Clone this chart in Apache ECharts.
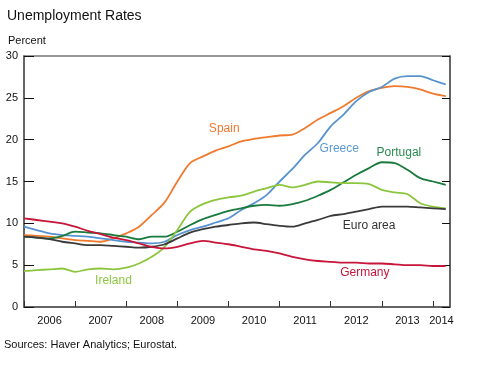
<!DOCTYPE html>
<html><head><meta charset="utf-8">
<script src="https://cdn.jsdelivr.net/npm/echarts@6/dist/echarts.min.js"></script>
<style>html,body{margin:0;padding:0;background:#fff}#c{width:480px;height:366px}</style>
</head><body><div id="c"></div>
<script>
// monthly categories Jan 2006 .. May 2014
const months = [];
for (let y = 2006; y <= 2014; y++) for (let m = 1; m <= 12; m++) {
  if (y === 2014 && m > 5) break;
  months.push(y + '-' + (m < 10 ? '0' + m : m));
}
// quarterly sample months (every 3rd month from Jan 2006 to Apr 2014)
const sampleMonths = months.filter((_, i) => i % 3 === 0 && i <= 99);

const spain    = [8.6, 8.5, 8.4, 8.2, 8.0, 7.9, 7.8, 8.2, 8.8, 9.6, 11.0, 12.5, 15.0, 17.2, 18.0, 18.7, 19.2, 19.8, 20.1, 20.3, 20.5, 20.6, 21.4, 22.4, 23.2, 24.0, 25.0, 25.8, 26.2, 26.4, 26.3, 26.0, 25.5, 25.2];
const greece   = [9.6, 9.2, 8.8, 8.6, 8.5, 8.4, 8.2, 8.0, 7.8, 7.7, 7.6, 7.8, 8.6, 9.2, 9.6, 10.1, 10.6, 11.6, 12.4, 13.4, 15.0, 16.5, 18.2, 19.6, 21.6, 23.0, 24.6, 25.7, 26.3, 27.3, 27.6, 27.6, 27.1, 26.6];
const portugal = [8.4, 8.3, 8.2, 8.5, 9.0, 8.9, 8.8, 8.6, 8.4, 8.1, 8.4, 8.4, 9.0, 9.8, 10.5, 11.0, 11.5, 11.8, 12.1, 12.2, 12.1, 12.3, 12.7, 13.3, 14.0, 14.9, 15.8, 16.6, 17.3, 17.2, 16.4, 15.4, 15.0, 14.6];
const ireland  = [4.3, 4.4, 4.5, 4.6, 4.2, 4.5, 4.6, 4.5, 4.7, 5.2, 6.0, 7.2, 9.2, 11.4, 12.3, 12.8, 13.1, 13.3, 13.8, 14.2, 14.6, 14.3, 14.6, 15.0, 14.9, 14.8, 14.8, 14.7, 14.0, 13.7, 13.5, 12.4, 12.0, 11.8];
const euroArea = [8.4, 8.3, 8.1, 7.8, 7.6, 7.4, 7.4, 7.3, 7.2, 7.1, 7.2, 7.5, 8.2, 8.9, 9.3, 9.6, 9.8, 10.0, 10.1, 9.9, 9.7, 9.6, 10.0, 10.4, 10.9, 11.1, 11.4, 11.7, 12.0, 12.0, 12.0, 11.9, 11.8, 11.7];
const germany  = [10.6, 10.4, 10.2, 10.0, 9.6, 9.1, 8.7, 8.3, 8.0, 7.6, 7.2, 7.0, 7.2, 7.6, 7.9, 7.7, 7.5, 7.2, 6.9, 6.7, 6.4, 6.0, 5.7, 5.5, 5.4, 5.3, 5.3, 5.2, 5.2, 5.1, 5.0, 5.0, 4.9, 4.9];

const seriesNames = ['Spain', 'Greece', 'Portugal', 'Ireland', 'Euro area', 'Germany'];
const seriesValues = [spain, greece, portugal, ireland, euroArea, germany];
const lineColors  = ['#ef7a2e', '#5693cf', '#187a3c', '#8cc63f', '#3a3a3a', '#c8153a'];
const labelColors = ['#ef7a2e', '#5b9bd5', '#2a8a4e', '#8cc63f', '#333333', '#c8153a'];
// label anchor points in data space: [month, value]
const labelAt = [['2009-12', 21.3], ['2012-03', 18.9], ['2013-05', 18.5], ['2007-10', 3.2], ['2012-10', 9.7], ['2012-09', 4.1]];

const yTicks = [0, 5, 10, 15, 20, 25, 30];
const FONT = '"Liberation Sans", Arial, sans-serif';

const chart = echarts.init(document.getElementById('c'), null, {renderer: 'canvas'});
chart.setOption({
  animation: false,
  textStyle: {fontFamily: FONT},
  title: [
    {text: 'Unemployment Rates', left: 2, top: 4, textStyle: {fontFamily: FONT, fontSize: 14, fontWeight: 'normal', color: '#111'}},
    {text: 'Percent', left: 3, top: 30, textStyle: {fontFamily: FONT, fontSize: 11, fontWeight: 'normal', color: '#111'}},
    {text: 'Sources: Haver Analytics; Eurostat.', left: -1, top: 334, textStyle: {fontFamily: FONT, fontSize: 11, fontWeight: 'normal', color: '#111'}}
  ],
  grid: {left: 24, right: 30, top: 56, bottom: 59, show: true, borderColor: '#777', borderWidth: 1.5, backgroundColor: '#fff'},
  xAxis: {
    type: 'category', data: months, boundaryGap: false,
    axisLine: {lineStyle: {color: '#555', width: 1.5}},
    axisTick: {inside: true, length: 6, lineStyle: {color: '#333'}, interval: (i) => i % 12 === 0},
    axisLabel: {
      interval: (i) => (i % 12 === 6 && i < 96) || i === 98,
      formatter: (v) => v.slice(0, 4), color: '#111', fontSize: 11, margin: 8, fontFamily: FONT
    },
    splitLine: {show: false}
  },
  yAxis: [
    {type: 'value', min: yTicks[0], max: yTicks[yTicks.length - 1], interval: 5, position: 'left',
     axisLine: {show: true, lineStyle: {color: '#555', width: 1.5}},
     axisTick: {show: true, inside: true, length: 10, lineStyle: {color: '#111'}},
     axisLabel: {color: '#111', fontSize: 11, margin: 6, fontFamily: FONT},
     splitLine: {show: false}},
    {type: 'value', min: yTicks[0], max: yTicks[yTicks.length - 1], interval: 5, position: 'right',
     axisLine: {show: true, lineStyle: {color: '#555', width: 1.5}},
     axisTick: {show: true, inside: true, length: 8, lineStyle: {color: '#111'}},
     axisLabel: {show: false}, splitLine: {show: false}}
  ],
  series: seriesNames.map((name, k) => ({
    name, type: 'line', yAxisIndex: 0, smooth: 0.3, symbol: 'none',
    lineStyle: {color: lineColors[k], width: 1.8},
    data: sampleMonths.map((m, i) => [m, seriesValues[k][i]]),
    markPoint: {
      symbol: 'circle', symbolSize: 0, silent: true,
      data: [{coord: labelAt[k], label: {show: true, position: 'inside', formatter: name, color: labelColors[k], fontSize: 12, fontFamily: FONT}}]
    }
  }))
});
</script></body></html>
